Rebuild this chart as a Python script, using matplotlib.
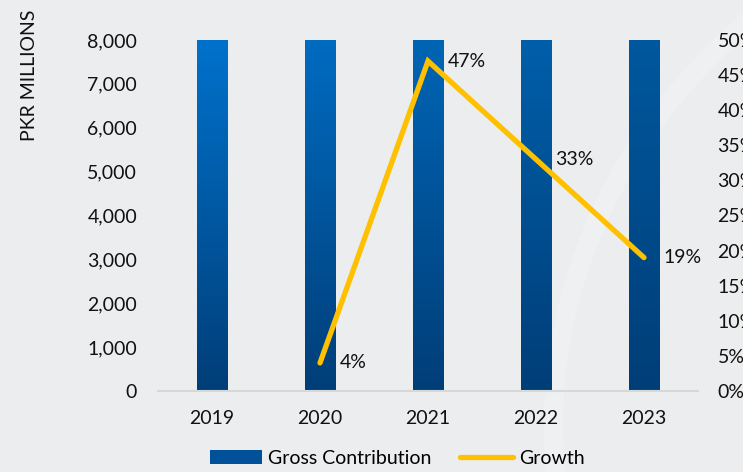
import numpy as np
import matplotlib.pyplot as plt
from matplotlib.patches import Ellipse
from matplotlib.colors import LinearSegmentedColormap

plt.rcParams['font.family'] = ['Lato', 'DejaVu Sans']

years = ['2019', '2020', '2021', '2022', '2023']
gross_contribution = [8000, 8000, 8000, 8000, 8000]
growth_years = ['2020', '2021', '2022', '2023']
growth = [0.04, 0.47, 0.33, 0.19]
growth_labels = ['4%', '47%', '33%', '19%']

bg = '#ECEDEE'
fs = 14
fig = plt.figure(figsize=(7.43, 4.72), dpi=100, facecolor=bg)

# faint white sweep on the right of the slide background
bg_ax = fig.add_axes([0, 0, 1, 1], zorder=-1)
bg_ax.set_xlim(0, 1)
bg_ax.set_ylim(0, 1)
bg_ax.axis('off')
bg_ax.add_patch(Ellipse((1.62, 0.1), 1.75, 2.4, facecolor='none',
                        edgecolor='white', lw=14, alpha=0.18))

ax = fig.add_axes([158 / 743, 1 - 391 / 472, 540 / 743, 351 / 472])
ax.set_facecolor('none')
x = np.arange(len(years))
bars = ax.bar(x, gross_contribution, width=0.28, color='#00519A', zorder=2)

# vertical gradient inside each bar, a bit darker towards the right
top_left = np.array([0, 114, 204]) / 255
top_right = np.array([0, 88, 158]) / 255
bottom = np.array([0, 62, 120]) / 255
for i, b in enumerate(bars):
    t = i / (len(bars) - 1)
    top = top_left * (1 - t) + top_right * t
    cmap = LinearSegmentedColormap.from_list('bar%d' % i, [bottom, top])
    grad = np.linspace(0, 1, 256).reshape(-1, 1)
    x0, w, h = b.get_x(), b.get_width(), b.get_height()
    im = ax.imshow(grad, cmap=cmap, aspect='auto', origin='lower',
                   extent=[x0, x0 + w, 0, h], zorder=2)
    im.set_clip_path(b)

ax.set_xlim(-0.5, 4.5)
ax.set_ylim(0, 8000)
ax.set_yticks(np.arange(0, 8001, 1000))
ax.set_yticklabels(['{:,}'.format(v) for v in range(0, 8001, 1000)])
ax.set_xticks(x)
ax.set_xticklabels(years)
ax.tick_params(axis='both', length=0, labelsize=fs, colors='#111111')
ax.tick_params(axis='y', pad=15)
ax.tick_params(axis='x', pad=14)
for s in ['top', 'right', 'left']:
    ax.spines[s].set_visible(False)
ax.spines['bottom'].set_color('#D6D7D8')
ax.spines['bottom'].set_linewidth(1.5)

ax2 = ax.twinx()
gx = [years.index(y) for y in growth_years]
line, = ax2.plot(gx, growth, color='#FFC000', lw=3.8, solid_joinstyle='miter',
                 solid_capstyle='round', zorder=3)
ax2.set_ylim(0, 0.5)
ax2.set_yticks(np.arange(0, 0.51, 0.05))
ax2.set_yticklabels(['%d%%' % round(v * 100) for v in np.arange(0, 0.51, 0.05)])
ax2.tick_params(axis='y', length=0, labelsize=fs, colors='#111111', pad=14)
for s in ax2.spines.values():
    s.set_visible(False)

for xi, g, lab in zip(gx, growth, growth_labels):
    ax2.annotate(lab, (xi, g), xytext=(14, 0), textcoords='offset points',
                 ha='left', va='center', fontsize=fs, color='#111111')

fig.text(30 / 743, 1 - 75 / 472, 'PKR MILLIONS', rotation=90, ha='center',
         va='center', fontsize=fs, color='#111111')

leg = fig.legend([bars, line], ['Gross Contribution', 'Growth'],
                 loc='center', bbox_to_anchor=(397 / 743, 1 - 458 / 472),
                 ncol=2, frameon=False, fontsize=fs, handlelength=2.7,
                 handleheight=0.7, handletextpad=0.3, columnspacing=1.5)

fig.savefig('out.png', dpi=100, facecolor=bg)
